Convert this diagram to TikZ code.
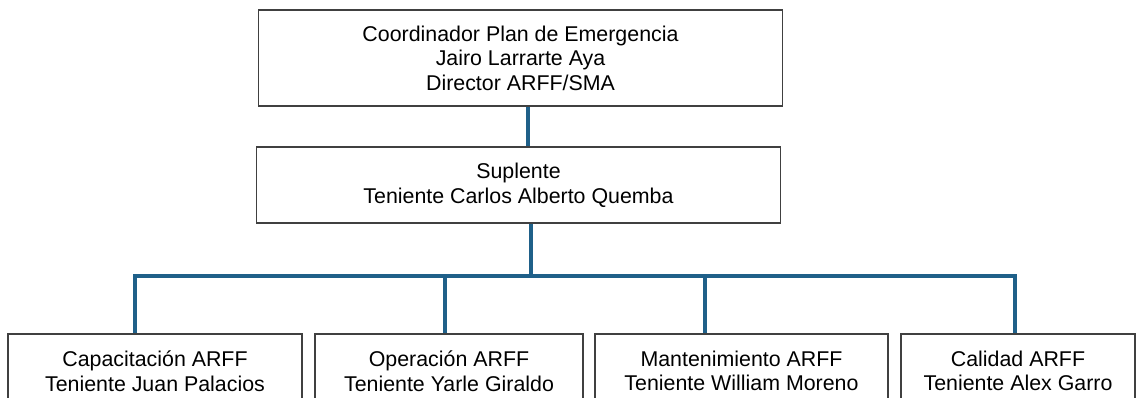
\documentclass[tikz,border=0pt]{standalone}
\usepackage{fontspec}
\setmainfont{Liberation Sans}
\usetikzlibrary{calc}
\definecolor{linkblue}{HTML}{1F6089}
\tikzset{
	box/.style={draw=black!75, line width=0.8pt, fill=white, align=center, inner sep=0pt, font=\fontsize{15.2}{17.5}\selectfont},
	link/.style={draw=linkblue, line width=2.4pt}
}

\begin{document}
\begin{tikzpicture}[x=0.025cm, y=-0.025cm]
				\useasboundingbox (0, 0) rectangle (1136, 398);
				\clip (0, 0) rectangle (1136, 398);
				
				\node[box, minimum width=13.075cm, minimum height=2.4cm] (coord) at (520.5, 58) {Coordinador Plan de Emergencia\\Jairo Larrarte Aya\\Director ARFF/SMA};
				\node[box, minimum width=13.075cm, minimum height=1.9cm] (supl) at (518.5, 185) {Suplente\\Teniente Carlos Alberto Quemba};
				
				\node[box, minimum width=7.35cm, minimum height=1.85cm] (capac) at (155, 371) {Capacitación ARFF\\Teniente Juan Palacios};
				\node[box, minimum width=6.7cm, minimum height=1.85cm] (oper) at (449, 371) {Operación ARFF\\Teniente Yarle Giraldo};
				\node[box, minimum width=7.325cm, minimum height=1.85cm] (mant) at (741.5, 371) {Mantenimiento ARFF\\Teniente William Moreno};
				\node[box, minimum width=5.85cm, minimum height=1.85cm] (calid) at (1018, 371) {Calidad ARFF\\Teniente Alex Garro};
				
				\coordinate (up) at (528, 0);
				\coordinate (bus) at (531, 276);
				\coordinate (d1) at (135, 276);
				\coordinate (d2) at (445, 276);
				\coordinate (d3) at (705, 276);
				\coordinate (d4) at (1015, 276);
				
				\draw[link] (coord.south -| up) -- (supl.north -| up);
				\draw[link] (supl.south -| bus) -- (bus);
				\draw[link] (capac.north -| d1) -- (d1) -- (d4) -- (calid.north -| d4);
				\draw[link] (d2) -- (oper.north -| d2);
				\draw[link] (d3) -- (mant.north -| d3);
			\end{tikzpicture}
\end{document}
